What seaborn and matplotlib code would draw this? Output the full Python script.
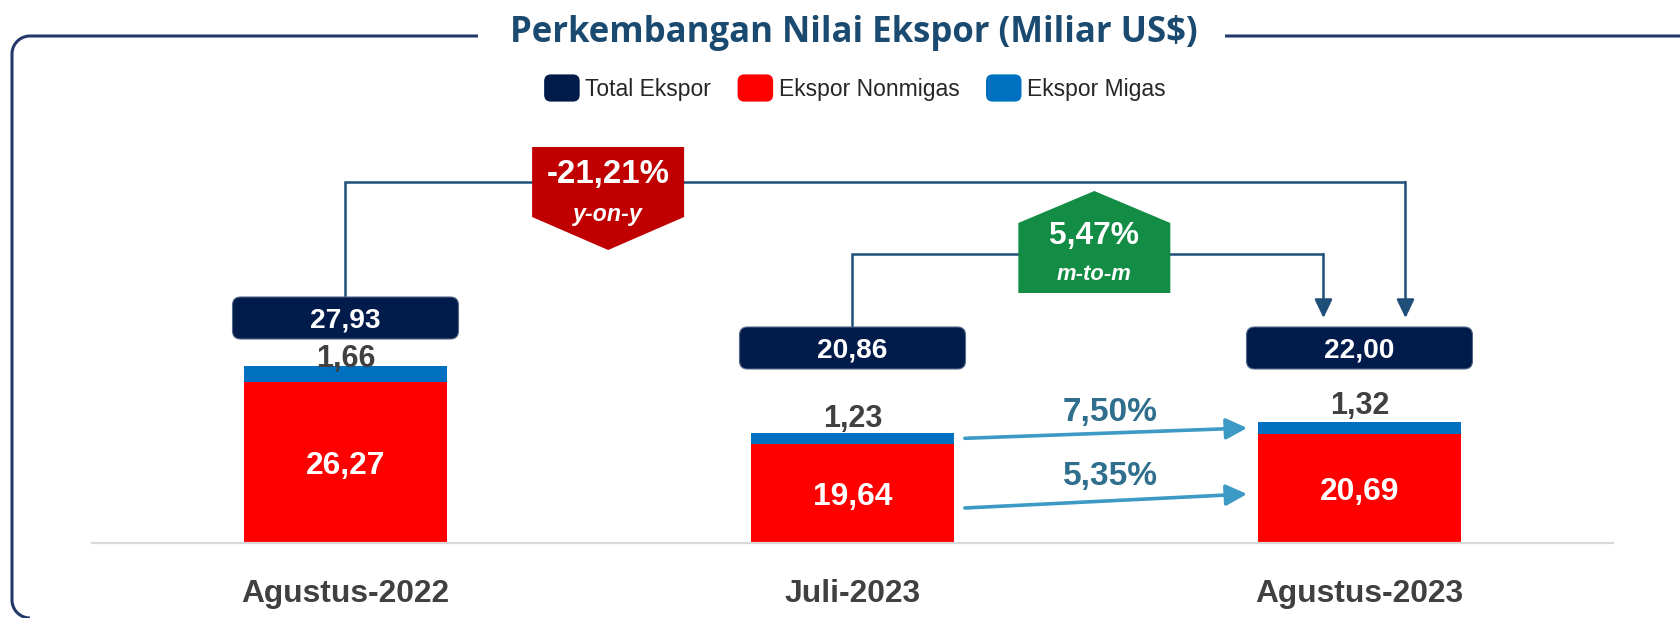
import matplotlib
matplotlib.use("Agg")
import numpy as np
import pandas as pd
import matplotlib.pyplot as plt
import seaborn as sns
from matplotlib import font_manager
from matplotlib.patches import FancyBboxPatch, Polygon, Rectangle, FancyArrowPatch, Patch
from matplotlib.legend_handler import HandlerPatch

# ---------------- data ----------------
periods = ["Agustus-2022", "Juli-2023", "Agustus-2023"]
nonmigas = [26.27, 19.64, 20.69]
migas = [1.66, 1.23, 1.32]
total = [27.93, 20.86, 22.00]
series_names = ["Total Ekspor", "Ekspor Nonmigas", "Ekspor Migas"]
title = "Perkembangan Nilai Ekspor (Miliar US$)"
yoy_value, yoy_text = "-21,21%", "y-on-y"
mtm_value, mtm_text = "5,47%", "m-to-m"
migas_growth = "7,50%"
nonmigas_growth = "5,35%"


def fmt(v):
    return f"{v:.2f}".replace(".", ",")


# ---------------- style ----------------
NAVY = "#011B4B"
RED = "#FF0000"
BLUE = "#0070C0"
GRAY = "#404040"
LINE = "#1F4E79"
FRAME = "#24396A"
TITLE_C = "#1B4A70"
BADGE_RED = "#C00000"
BADGE_GREEN = "#138D45"
ARROW_C = "#3C9AC5"
GROWTH_C = "#2F6E8C"

sns.set_theme(style="white")
installed = {f.name for f in font_manager.fontManager.ttflist}
narrow_ok = "Liberation Sans Narrow" in installed
NARROW = "Liberation Sans Narrow" if narrow_ok else "Liberation Sans"
k = 1.0 if narrow_ok else 0.88
plt.rcParams["font.family"] = [NARROW, "DejaVu Sans"]

W, H = 1681, 618
fig = plt.figure(figsize=(W / 100, H / 100), dpi=100)
fig.patch.set_facecolor("white")

AX_L, AX_R, AX_B, AX_T = 92, 1613, 542.7, 100
ax = fig.add_axes([AX_L / W, (H - AX_B) / H, (AX_R - AX_L) / W, (AX_B - AX_T) / H])
ax.set_facecolor("none")

df = pd.DataFrame({"Periode": periods, "Nonmigas": nonmigas, "Migas": migas})
df["Stack"] = df["Nonmigas"] + df["Migas"]
sns.barplot(data=df, x="Periode", y="Stack", order=periods, color=BLUE,
            saturation=1, width=0.4, linewidth=0, errorbar=None, ax=ax)
sns.barplot(data=df, x="Periode", y="Nonmigas", order=periods, color=RED,
            saturation=1, width=0.4, linewidth=0, errorbar=None, ax=ax)
Y0 = 9.15
ax.set_ylim(Y0, Y0 + (AX_B - AX_T) / 9.4)
ax.set_xlim(-0.5, 2.5)
ax.set_xlabel("")
ax.set_ylabel("")
ax.set_yticks([])
for s in ["top", "left", "right"]:
    ax.spines[s].set_visible(False)
ax.spines["bottom"].set_color("#D9D9D9")
ax.spines["bottom"].set_linewidth(1.6)
ax.tick_params(axis="x", length=0, pad=26)
for lab in ax.get_xticklabels():
    lab.set_fontsize(26 * k)
    lab.set_fontweight("bold")
    lab.set_color(GRAY)

# ---------------- overlay in pixel coordinates ----------------
ov = fig.add_axes([0, 0, 1, 1], zorder=5)
ov.set_xlim(0, W)
ov.set_ylim(H, 0)
ov.axis("off")
ov.patch.set_alpha(0)


def PX(x):
    return ax.transData.transform((x, Y0))[0]


def PY(v):
    return H - ax.transData.transform((0, v))[1]


# frame (top line with rounded top-left corner, left side, rounded bottom-left corner)
r = 18
t = np.linspace(0, np.pi / 2, 30)
fx = np.concatenate([[W + 5], 12 + r - r * np.cos(t)[::-1], [12], 12 + r - r * np.cos(t)])
fy = np.concatenate([[36], 36 + r - r * np.sin(t)[::-1], [H - r], H - r + r * np.sin(t)])
ov.plot(fx, fy, color=FRAME, lw=2.2, solid_capstyle="butt", zorder=1)
ov.add_patch(Rectangle((478, 16), 1225 - 478, 40, fc="white", ec="none", zorder=2))
ov.text(854, 33, title, ha="center", va="center", fontsize=25, fontweight="bold",
        color=TITLE_C, family=["Open Sans", "DejaVu Sans"], zorder=3)


# legend with rounded swatches
class RoundHandler(HandlerPatch):
    def create_artists(self, legend, orig_handle, xdescent, ydescent, width, height,
                       fontsize, trans):
        p = FancyBboxPatch((-xdescent, -ydescent), width, height,
                           boxstyle=f"round,pad=0,rounding_size={height * 0.25:.2f}",
                           fc=orig_handle.get_facecolor(), ec="none", transform=trans)
        return [p]


handles = [Patch(facecolor=c, edgecolor="none") for c in [NAVY, RED, BLUE]]
fig.legend(handles, series_names, loc="center", bbox_to_anchor=(855 / W, 1 - 88 / H),
           ncol=3, frameon=False, fontsize=16.5 * k / 0.88, handlelength=1.55,
           handleheight=1.45, handletextpad=0.25, columnspacing=1.15, borderaxespad=0,
           handler_map={Patch: RoundHandler()})

# value labels on bars
for i in range(len(periods)):
    ov.text(PX(i), PY((Y0 + nonmigas[i]) / 2) + 4, fmt(nonmigas[i]), ha="center", va="center",
            fontsize=26 * k, fontweight="bold", color="white", zorder=6)
mig_off = [7, 14, 16]
for i in range(len(periods)):
    ov.text(PX(i), PY(nonmigas[i] + migas[i]) - mig_off[i], fmt(migas[i]), ha="center",
            va="center", fontsize=25 * k, fontweight="bold", color=GRAY, zorder=6)

# total boxes
box_top = [297, 327, 327]
BW, BH = 226, 42
for i in range(len(periods)):
    cx = PX(i)
    ov.add_patch(FancyBboxPatch((cx - BW / 2, box_top[i]), BW, BH,
                                boxstyle="round,pad=0,rounding_size=8",
                                fc=NAVY, ec="#55688A", lw=0.8, zorder=5))
    ov.text(cx, box_top[i] + BH / 2 + 2, fmt(total[i]), ha="center", va="center",
            fontsize=23 * k, fontweight="bold", color="white", zorder=6)


# connectors
def connector(x_from, y_from, y_mid, x_to, y_to):
    ov.plot([x_from, x_from, x_to], [y_from, y_mid, y_mid], color=LINE, lw=1.8,
            solid_joinstyle="miter", solid_capstyle="butt", zorder=3)
    ov.add_patch(FancyArrowPatch((x_to, y_mid), (x_to, y_to),
                                 arrowstyle="-|>,head_length=0.75,head_width=0.36",
                                 mutation_scale=15, color=LINE, lw=1.8,
                                 shrinkA=0, shrinkB=0, zorder=3))


connector(PX(0), box_top[0], 182, PX(2) + 46, 318)
connector(PX(1), box_top[1], 254, PX(2) - 36, 318)

# y-on-y badge (red, pointing down)
bx = PX(0.518)
ov.add_patch(Polygon([(bx - 76, 147), (bx + 76, 147), (bx + 76, 217), (bx, 250), (bx - 76, 217)],
                     closed=True, fc=BADGE_RED, ec="none", zorder=4))
ov.text(bx, 175, yoy_value, ha="center", va="center", fontsize=27 * k, fontweight="bold",
        color="white", zorder=6)
ov.text(bx, 215, yoy_text, ha="center", va="center", fontsize=19 * k, fontweight="bold",
        style="italic", color="white", zorder=6)

# m-to-m badge (green, pointing up)
gx = PX(1.477)
ov.add_patch(Polygon([(gx - 76, 293), (gx + 76, 293), (gx + 76, 223), (gx, 191), (gx - 76, 223)],
                     closed=True, fc=BADGE_GREEN, ec="none", zorder=4))
ov.text(gx, 236, mtm_value, ha="center", va="center", fontsize=26 * k, fontweight="bold",
        color="white", zorder=6)
ov.text(gx, 274, mtm_text, ha="center", va="center", fontsize=18 * k, fontweight="bold",
        style="italic", color="white", zorder=6)

# growth arrows between Juli-2023 and Agustus-2023
x_a = PX(1 + 0.2) + 11
x_b = PX(2 - 0.2) - 11
up_a = PY(nonmigas[1] + migas[1] / 2)
up_b = PY(nonmigas[2] + migas[2] / 2)
for (ya, yb) in [(up_a, up_b), (508, 494)]:
    ov.add_patch(FancyArrowPatch((x_a, ya), (x_b, yb),
                                 arrowstyle="-|>,head_length=0.8,head_width=0.4",
                                 mutation_scale=16, color=ARROW_C, lw=2.6,
                                 shrinkA=0, shrinkB=0, zorder=4))
gxm = PX(1.5)
ov.text(gxm + 4, 413, migas_growth, ha="center", va="center", fontsize=24, fontweight="bold",
        color=GROWTH_C, family=["Liberation Sans", "DejaVu Sans"], zorder=6)
ov.text(gxm + 4, 476, nonmigas_growth, ha="center", va="center", fontsize=24, fontweight="bold",
        color=GROWTH_C, family=["Liberation Sans", "DejaVu Sans"], zorder=6)

fig.savefig("out.png", dpi=100, facecolor="white")
